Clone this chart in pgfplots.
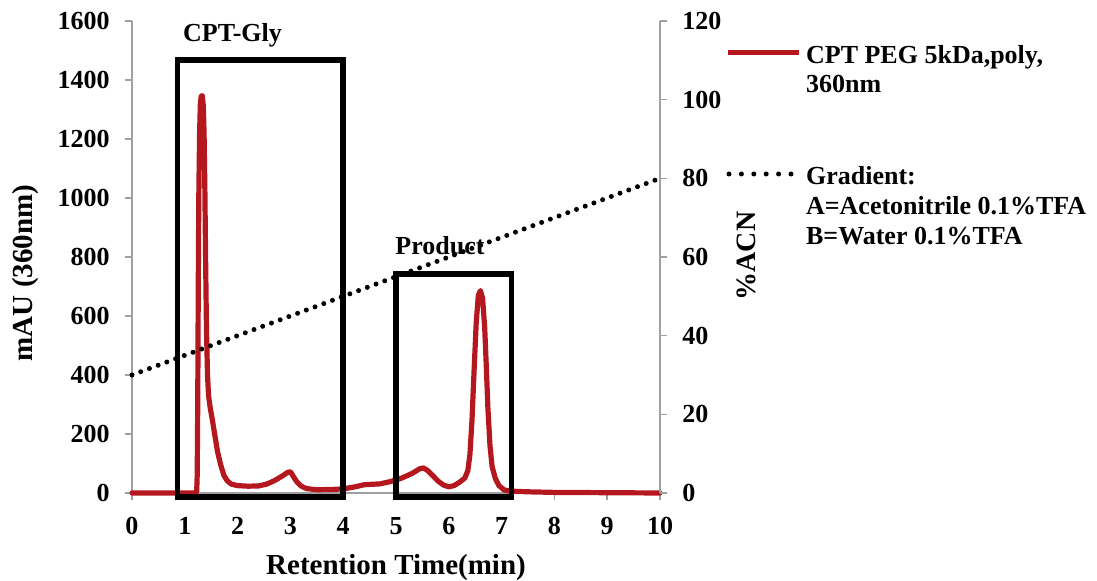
\documentclass[border=0pt]{standalone}
\usepackage{fontspec}
\setmainfont{Liberation Serif}
\usepackage{pgfplots}
\pgfplotsset{compat=1.18}
\definecolor{chromred}{RGB}{180,24,30}
\definecolor{axgray}{RGB}{160,160,160}
\begin{document}
\begin{tikzpicture}
\pgfplotsset{
  common/.style={
    scale only axis, width=264pt, height=236pt,
    xmin=0, xmax=10,
    tick align=outside, major tick length=3.5pt,
    tick style={draw=axgray, line width=0.75pt},
    axis line style={draw=axgray, line width=0.75pt, -},
    /pgf/number format/assume math mode=true,
    /pgf/number format/1000 sep={},
    ticklabel style={font=\bfseries\fontsize{13}{15}\selectfont},
    clip=false,
  }
}
\begin{axis}[common,
  ymin=0, ymax=1600,
  axis x line*=bottom, axis y line*=left,
  xtick={0,1,...,10}, ytick={0,200,...,1600},
  xticklabel style={yshift=-5pt},
  yticklabel style={xshift=-4.2pt},
]
\addplot[chromred, line width=2.6pt, line join=round, line cap=round] coordinates {
(0,0) (1.0,0) (1.20,0) (1.225,5) (1.235,60) (1.245,300) (1.255,700) (1.265,1000)
(1.28,1220) (1.295,1320) (1.31,1345) (1.33,1347) (1.35,1315) (1.365,1220) (1.38,1030)
(1.395,780) (1.41,560) (1.43,400) (1.45,330) (1.48,290) (1.52,250) (1.57,195)
(1.62,140) (1.68,95) (1.74,60) (1.80,42) (1.88,30) (2.0,25) (2.2,23) (2.4,24)
(2.55,30) (2.7,42) (2.85,58) (2.95,70) (3.0,72) (3.05,58) (3.12,38) (3.2,24)
(3.3,15) (3.5,11) (3.8,12) (4.0,14) (4.2,20) (4.4,28) (4.5,29) (4.7,31) (4.9,39)
(5.1,50) (5.3,66) (5.45,82) (5.52,85) (5.6,76) (5.7,58) (5.8,40) (5.9,27) (6.0,21)
(6.1,25) (6.2,36) (6.3,50) (6.36,75) (6.40,130) (6.44,250) (6.48,420) (6.52,580)
(6.56,670) (6.60,686) (6.64,660) (6.68,560) (6.71,430) (6.74,290) (6.78,160)
(6.82,90) (6.88,50) (6.95,25) (7.05,10) (7.2,6) (7.5,4) (8,2) (9,1) (10,0)
};
\draw[black, line width=2.8pt] (axis cs:0.865,-14.6) rectangle (axis cs:4.0,1467);
\draw[black, line width=2.8pt] (axis cs:5.0,-14.6) rectangle (axis cs:7.19,742);
\end{axis}
\begin{axis}[common,
  ymin=0, ymax=120,
  axis x line=none, axis y line*=right,
  ytick={0,20,...,120},
  yticklabel style={xshift=4.2pt},
]
\addplot[black, line width=2.5pt, line cap=round, dash pattern=on 0pt off 4.65pt] coordinates {(0,30) (10,80)};
\end{axis}
% labels
\begin{scope}[font=\bfseries\fontsize{13}{15}\selectfont, inner sep=0pt]
\node[anchor=base] at (50.25pt,225.65pt) {CPT-Gly};
\node[anchor=base] at (154pt,119.35pt) {Product};
\node[anchor=base] at (132pt,-41pt) {\fontsize{14.5}{17}\selectfont Retention Time(min)};
\node[rotate=90, anchor=center] at (-53pt,110pt) {\fontsize{14.5}{17}\selectfont mAU (360nm)};
\node[rotate=90, anchor=center] at (307pt,118.5pt) {\fontsize{14}{17}\selectfont \%ACN};
% legend
\draw[chromred, line width=2.6pt] (298pt,220.35pt) -- (333.5pt,220.35pt);
\node[anchor=base west] at (336.85pt,214.85pt) {CPT PEG 5kDa,poly,};
\node[anchor=base west] at (336.85pt,200.15pt) {360nm};
\draw[black, line width=2.5pt, line cap=round, dash pattern=on 0pt off 6.2pt] (298.5pt,159.5pt) -- (329.6pt,159.5pt);
\node[anchor=base west] at (336.85pt,154pt) {Gradient:};
\node[anchor=base west] at (336.85pt,139pt) {A=Acetonitrile 0.1\%TFA};
\node[anchor=base west] at (336.85pt,124pt) {B=Water 0.1\%TFA};
\end{scope}
\pgfresetboundingbox
\path[use as bounding box] (-66pt,-44pt) rectangle (482.5pt,246.5pt);
\end{tikzpicture}
\end{document}
